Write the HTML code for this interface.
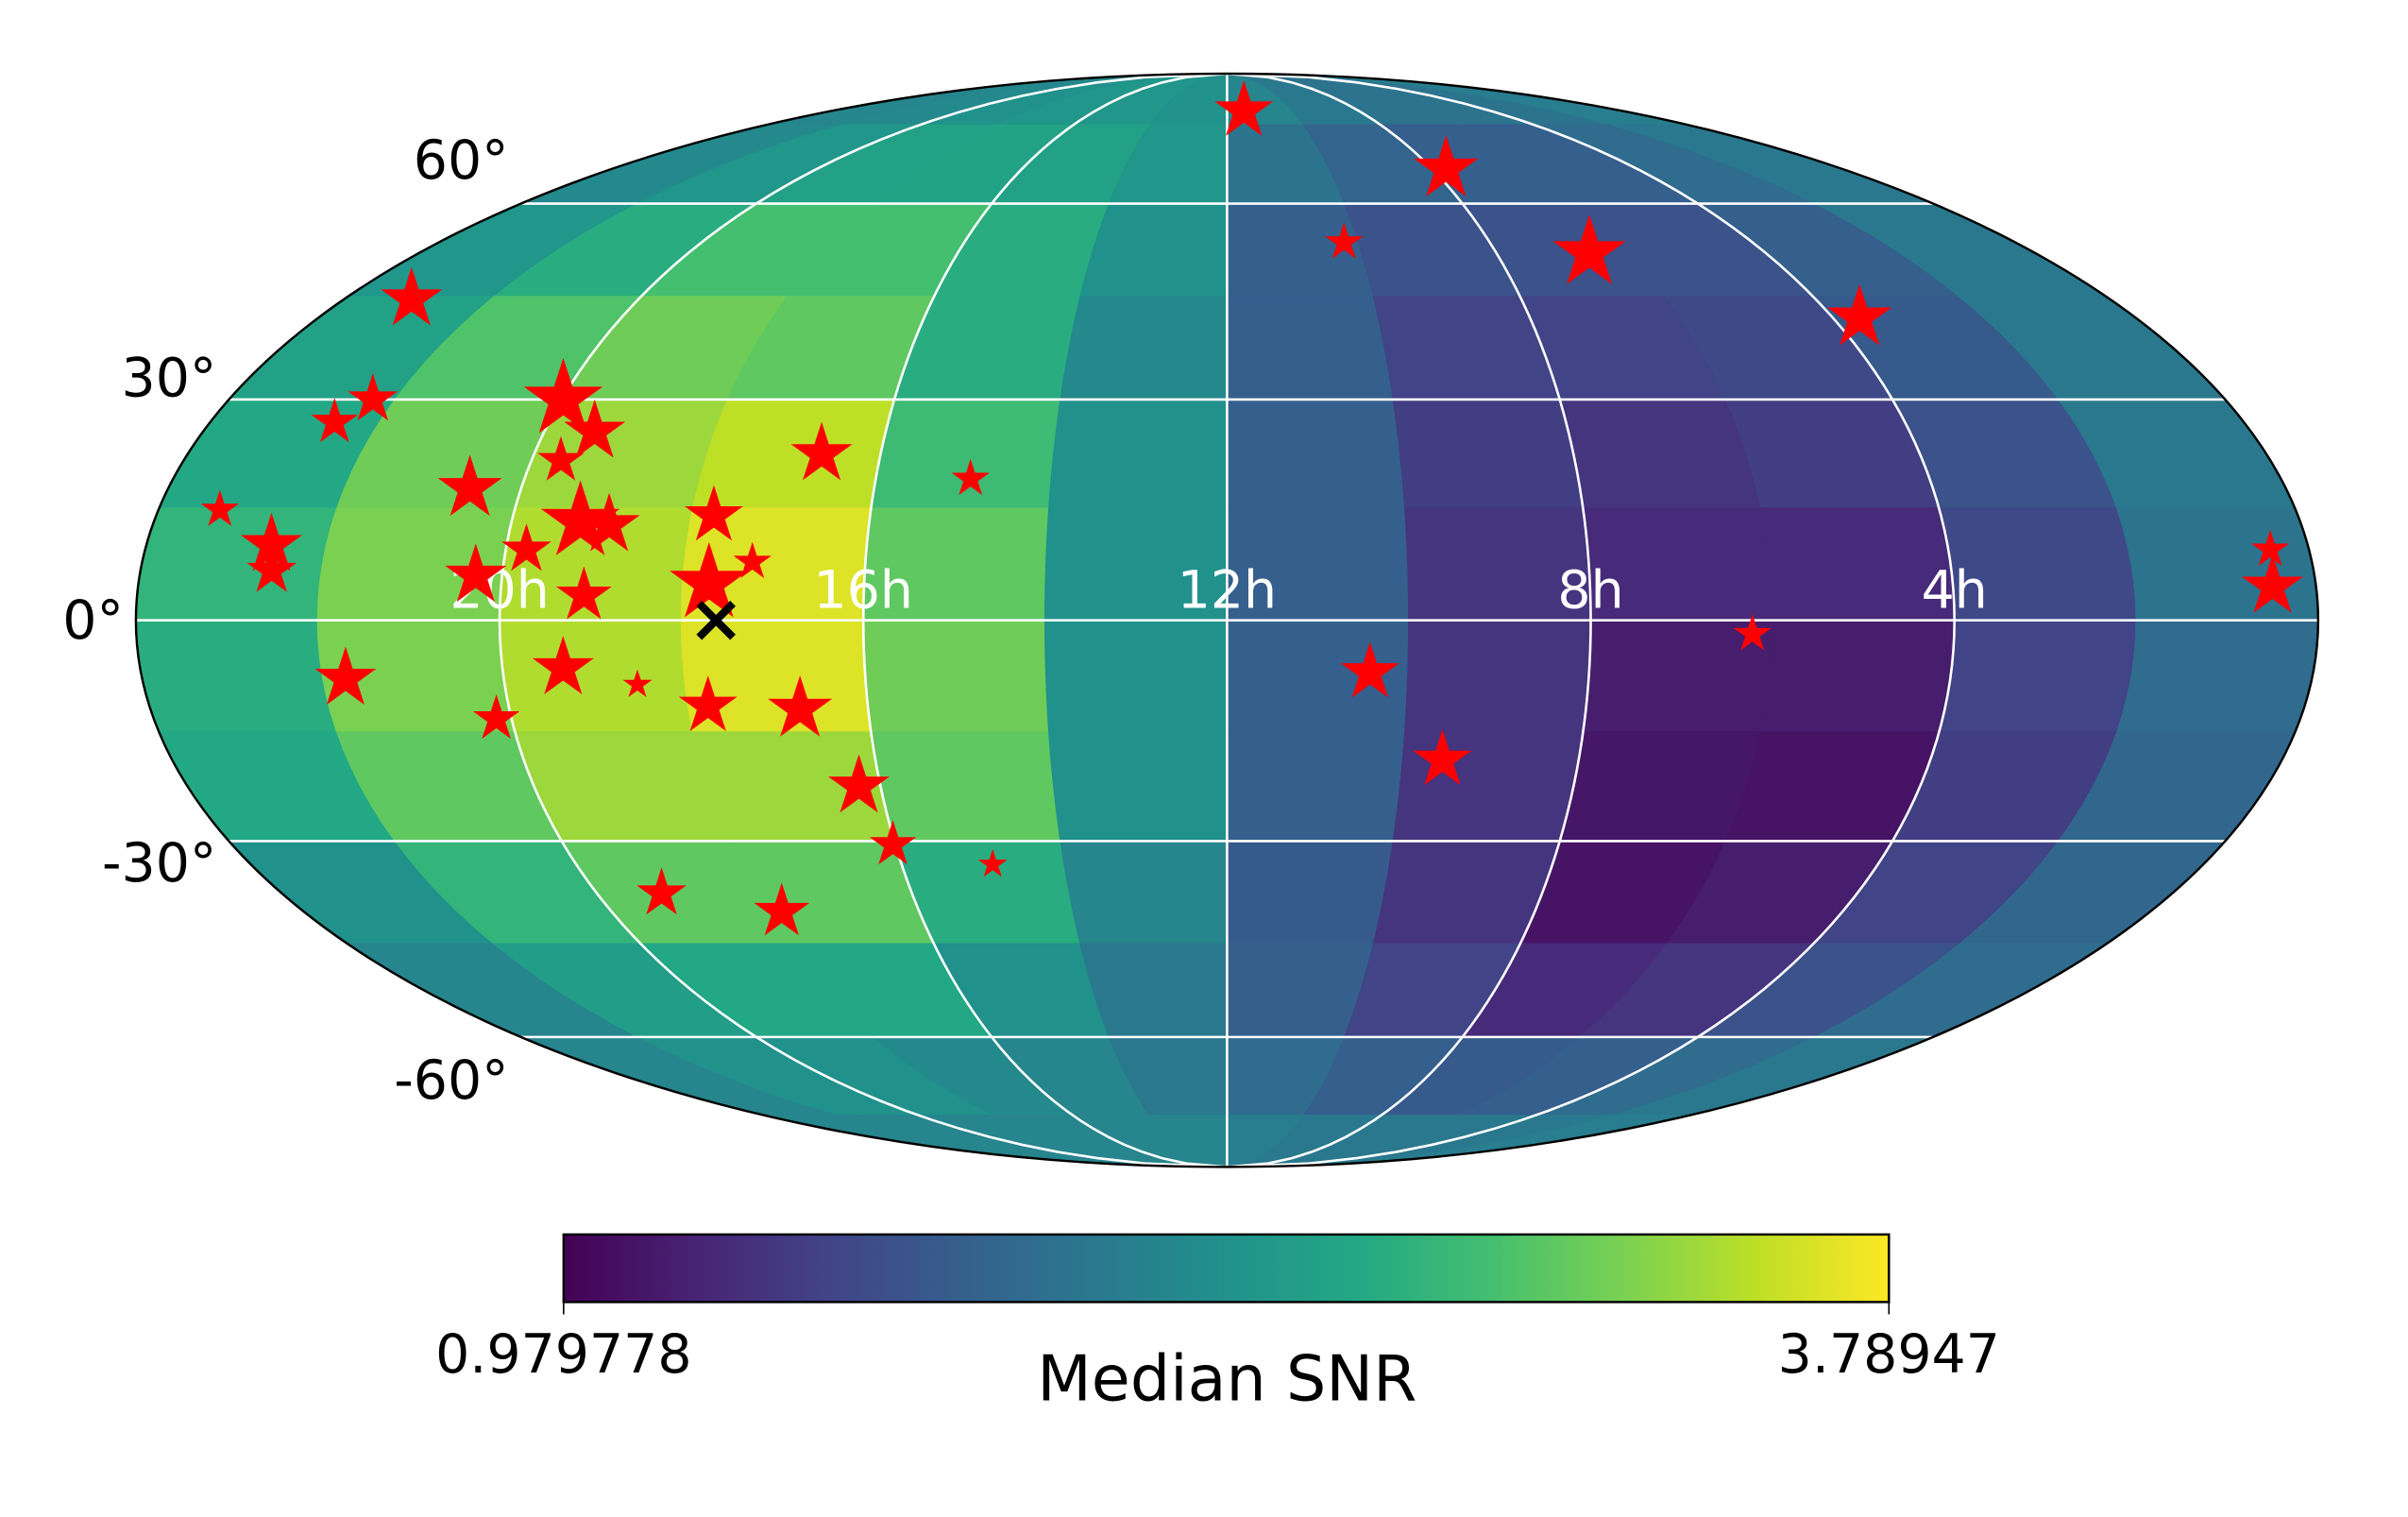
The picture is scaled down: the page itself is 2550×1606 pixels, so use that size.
<!DOCTYPE html>
<html><head><meta charset="utf-8"><style>
html,body{margin:0;padding:0;background:#fff;}
svg{display:block;font-family:"DejaVu Sans","Liberation Sans",sans-serif;}
</style></head><body>
<svg id="chart" width="2550" height="1606" viewBox="0 0 1568 988" preserveAspectRatio="none" xmlns="http://www.w3.org/2000/svg">
<defs>
<clipPath id="ellclip"><ellipse cx="799" cy="404" rx="710.5" ry="356"/></clipPath>
<linearGradient id="vir" x1="0" x2="1" y1="0" y2="0">
<stop offset="0" stop-color="#440154"/><stop offset="0.1" stop-color="#482475"/><stop offset="0.2" stop-color="#414487"/><stop offset="0.3" stop-color="#355f8d"/><stop offset="0.4" stop-color="#2a788e"/><stop offset="0.5" stop-color="#21918c"/><stop offset="0.6" stop-color="#22a884"/><stop offset="0.7" stop-color="#44bf70"/><stop offset="0.8" stop-color="#7ad151"/><stop offset="0.9" stop-color="#bddf26"/><stop offset="1" stop-color="#fde725"/>
</linearGradient>
</defs>
<g id="cells" clip-path="url(#ellclip)"></g>
<g id="grid" clip-path="url(#ellclip)" stroke="#fff" stroke-width="1.6" fill="none"></g>
<ellipse cx="799" cy="404" rx="710.5" ry="356" fill="none" stroke="#000" stroke-width="1.5"/>
<g id="ralabels" fill="#fff" font-size="34" text-anchor="middle"></g>
<g id="declabels" fill="#000" font-size="35" text-anchor="end"></g>
<g id="stars" fill="#ff0000"></g>
<g id="marker" stroke="#000" stroke-width="5" stroke-linecap="butt"></g>
<g>
<rect x="367" y="804" width="863" height="44" fill="url(#vir)" stroke="#000" stroke-width="1.5"/>
<line x1="367" y1="848" x2="367" y2="856" stroke="#000" stroke-width="1"/>
<line x1="1230" y1="848" x2="1230" y2="856" stroke="#000" stroke-width="1"/>
<text x="367" y="894" font-size="35" text-anchor="middle">0.979778</text>
<text x="1230" y="894" font-size="35" text-anchor="middle">3.78947</text>
<text x="799" y="912" font-size="41" text-anchor="middle">Median SNR</text>
</g>
</svg>
<script>
// heatmap grid: RA bin centers (hours) and Dec bin centers (deg)
const raCenters=[23,21,19,17,15,13,11,9,7,5,3,1];
const decCenters=[82.5,67.5,52.5,37.5,22.5,7.5,-7.5,-22.5,-37.5,-52.5,-67.5,-82.5];
const snrRow0=[0.45,0.47,0.5,0.52,0.52,0.5,0.45,0.4,0.38,0.38,0.38,0.42];
const snrRow1=[0.47,0.52,0.57,0.58,0.57,0.52,0.38,0.32,0.3,0.3,0.35,0.4];
const snrRow2=[0.52,0.62,0.7,0.7,0.62,0.5,0.3,0.25,0.25,0.25,0.3,0.4];
const snrRow3=[0.57,0.72,0.78,0.75,0.62,0.47,0.3,0.2,0.2,0.22,0.28,0.4];
const snrRow4=[0.6,0.78,0.85,0.9,0.68,0.5,0.3,0.18,0.15,0.18,0.25,0.4];
const snrRow5=[0.65,0.8,0.88,0.95,0.75,0.5,0.3,0.15,0.12,0.12,0.22,0.38];
const snrRow6=[0.62,0.8,0.88,0.95,0.78,0.5,0.3,0.15,0.08,0.08,0.2,0.35];
const snrRow7=[0.6,0.75,0.85,0.85,0.75,0.5,0.3,0.15,0.06,0.05,0.18,0.33];
const snrRow8=[0.5,0.65,0.75,0.75,0.62,0.45,0.28,0.15,0.05,0.08,0.2,0.33];
const snrRow9=[0.45,0.55,0.6,0.6,0.5,0.4,0.3,0.2,0.12,0.15,0.25,0.35];
const snrRow10=[0.45,0.5,0.5,0.47,0.45,0.4,0.35,0.3,0.28,0.3,0.35,0.4];
const snrRow11=[0.45,0.45,0.45,0.45,0.45,0.45,0.42,0.4,0.4,0.4,0.4,0.42];
const snrRows=[snrRow0,snrRow1,snrRow2,snrRow3,snrRow4,snrRow5,snrRow6,snrRow7,snrRow8,snrRow9,snrRow10,snrRow11];
// sources
const starRA=[11.49,7.73,10.22,6.62,3.65,23.08,22.27,22.53,19.98,19.41,19.66,16.68,14.92,23.31,20.58,19.23,18.90,17.75,22.61,19.77,17.25,22.55,20.29,17.71,19.08,0.43,0.48,6.22,10.42,21.75,19.33,18.53,17.78,16.76,20.17,9.55,16.25,16.03,14.88,19.18,17.79];
const starDec=[78.2,66.2,53.5,51.8,41.8,44.6,30.0,26.8,30.0,25.5,21.5,22.4,19.0,14.8,17.7,13.2,12.75,14.0,10.06,9.44,7.8,6.6,5.96,4.9,3.3,9.44,4.5,-1.85,-7.0,-7.8,-6.4,-8.6,-11.5,-11.9,-13.2,-18.8,-22.4,-30.5,-33.3,-37.5,-40.2];
const starSize=[20,22,13,25,22,21,17,16,27,21,16,21,13,13,22,27,21,20,21,17,13,17,21,27,19,13,21,13,20,21,21,10,20,22,16,20,21,16,10,17,19];
const markerRA=[17.62];
const markerDec=[0];
const raTickHours=[20,16,12,8,4];
const raTickLabels=["20h","16h","12h","8h","4h"];
const decTicks=[60,30,0,-30,-60];
const decTickLabels=["60°","30°","0°","-30°","-60°"];

const CX=799,CY=404,A=710.5,B=356,NS="http://www.w3.org/2000/svg";
function theta(dec){const phi=dec*Math.PI/180;if(Math.abs(phi)>=Math.PI/2-1e-9)return Math.sign(phi)*Math.PI/2;
 let t=phi;for(let i=0;i<50;i++){const f=2*t+Math.sin(2*t)-Math.PI*Math.sin(phi);const d=2+2*Math.cos(2*t);if(Math.abs(d)<1e-12)break;t-=f/d;}return t;}
function proj(ra,dec){const lam=(ra-12)*Math.PI/12;const t=theta(dec);return [CX-A*(lam/Math.PI)*Math.cos(t),CY-B*Math.sin(t)];}
const vstops=[[68,1,84],[72,36,117],[65,68,135],[53,95,141],[42,120,142],[33,145,140],[34,168,132],[68,191,112],[122,209,81],[189,223,38],[253,231,37]];
function vir(v){v=Math.max(0,Math.min(1,v));const p=v*10,i=Math.min(9,Math.floor(p)),f=p-i;const a=vstops[i],b=vstops[i+1];
 return `rgb(${Math.round(a[0]+(b[0]-a[0])*f)},${Math.round(a[1]+(b[1]-a[1])*f)},${Math.round(a[2]+(b[2]-a[2])*f)})`;}
const cells=document.getElementById('cells');
snrRows.forEach((row,i)=>{row.forEach((v,j)=>{
 const r0=Math.min(24,raCenters[j]+1),r1=Math.max(0,raCenters[j]-1),d0=decCenters[i]+7.5,d1=decCenters[i]-7.5;
 const pts=[];const N=6;
 for(let k=0;k<=N;k++)pts.push(proj(r0+(r1-r0)*k/N,d0));
 for(let k=0;k<=N;k++)pts.push(proj(r1,d0+(d1-d0)*k/N));
 for(let k=0;k<=N;k++)pts.push(proj(r1+(r0-r1)*k/N,d1));
 for(let k=0;k<=N;k++)pts.push(proj(r0,d1+(d0-d1)*k/N));
 const p=document.createElementNS(NS,'polygon');
 p.setAttribute('points',pts.map(q=>q[0].toFixed(2)+','+q[1].toFixed(2)).join(' '));
 const c=vir(v);p.setAttribute('fill',c);p.setAttribute('stroke',c);p.setAttribute('stroke-width','1');
 
 
 cells.appendChild(p);});});
const grid=document.getElementById('grid');
raTickHours.forEach(h=>{const pts=[];for(let d=-90;d<=90;d+=2)pts.push(proj(h,d));
 const pl=document.createElementNS(NS,'polyline');pl.setAttribute('points',pts.map(q=>q[0].toFixed(2)+','+q[1].toFixed(2)).join(' '));
 
 
 grid.appendChild(pl);});
decTicks.forEach(d=>{const y=proj(12,d)[1];const l=document.createElementNS(NS,'line');
 l.setAttribute('x1',0);l.setAttribute('x2',1568);l.setAttribute('y1',y);l.setAttribute('y2',y);
 
 
 grid.appendChild(l);});
const ral=document.getElementById('ralabels');
raTickHours.forEach((h,i)=>{const q=proj(h,0);const t=document.createElementNS(NS,'text');t.setAttribute('x',q[0]);t.setAttribute('y',q[1]-8);t.textContent=raTickLabels[i];
 
 
 ral.appendChild(t);});
const dl=document.getElementById('declabels');
decTicks.forEach((d,i)=>{const q=proj(24,d);const t=document.createElementNS(NS,'text');
 const off=-0.47*d;
 t.setAttribute('x',q[0]-8);t.setAttribute('y',q[1]+off+12);t.textContent=decTickLabels[i];
 
 
 dl.appendChild(t);});
const st=document.getElementById('stars');
starRA.forEach((ra,i)=>{const q=proj(ra,starDec[i]);const R=starSize[i],r=R*0.381;const pts=[];
 for(let k=0;k<10;k++){const ang=-Math.PI/2+k*Math.PI/5;const rr=k%2?r:R;pts.push((q[0]+rr*Math.cos(ang)).toFixed(2)+','+(q[1]+rr*Math.sin(ang)).toFixed(2));}
 const p=document.createElementNS(NS,'polygon');p.setAttribute('points',pts.join(' '));
 
 
 st.appendChild(p);});
const mk=document.getElementById('marker');
markerRA.forEach((ra,i)=>{const q=proj(ra,markerDec[i]);const s=11;
 [[-s,-s,s,s],[-s,s,s,-s]].forEach(c=>{const l=document.createElementNS(NS,'line');
 l.setAttribute('x1',q[0]+c[0]);l.setAttribute('y1',q[1]+c[1]);l.setAttribute('x2',q[0]+c[2]);l.setAttribute('y2',q[1]+c[3]);
 
 
 mk.appendChild(l);});});
</script>
</body></html>
